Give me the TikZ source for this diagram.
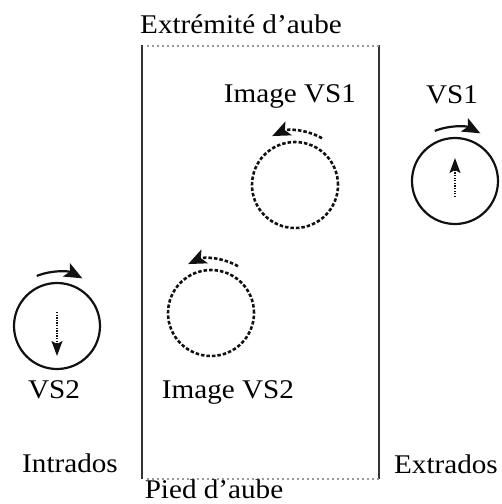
\documentclass[tikz,border=0pt]{standalone}
\usepackage{fontspec}
\setmainfont{Liberation Serif}[FakeStretch=1.08]
\usetikzlibrary{arrows.meta}
\definecolor{c333333}{RGB}{51,51,51}
\definecolor{c9A9A9A}{RGB}{154,154,154}
\definecolor{c111111}{RGB}{17,17,17}

\begin{document}
\begin{tikzpicture}[y=1pt,x=1pt,yscale=-1, inner sep=0pt, outer sep=0pt,
    lbl/.style={anchor=base,font=\fontsize{27}{31}\selectfont},
    vortex/.style={circle,draw=c111111,line width=2.2pt,minimum size=86pt},
    imagevortex/.style={circle,draw=c111111,line width=2.6pt,minimum size=86pt,
      dash pattern=on 3.5pt off 2pt},
    spin/.style={draw=c111111,line width=2.2pt,-{Stealth[length=18pt,width=15pt,inset=4pt]}},
    imagespin/.style={spin,line width=2.6pt,dash pattern=on 3.5pt off 2pt},
    core/.style={draw=c111111,line width=1.6pt,dash pattern=on 1.3pt off 1.3pt,
      -{Stealth[length=15pt,width=11pt,inset=3pt]}}]
  \useasboundingbox (0,0) rectangle (502,504);

  % aube
  \coordinate (tl) at (142,45);
  \coordinate (tr) at (379,45);
  \coordinate (bl) at (142,479);
  \coordinate (br) at (379,479);
  \path[draw=c333333,line width=2pt] (tl) -- (bl);
  \path[draw=c333333,line width=2pt] (tr) -- (br);
  \path[draw=c9A9A9A,line width=1.6pt,dash pattern=on 1.5pt off 3.5pt]
    ([xshift=5pt,yshift=1pt]tl) -- ([yshift=1pt]tr);
  \path[draw=c9A9A9A,line width=1.6pt,dash pattern=on 1.5pt off 3.5pt]
    ([xshift=5pt]bl) -- (br);

  % tourbillons
  \node[vortex] (vsone) at (455,181) {};
  \node[vortex] (vstwo) at (57,326) {};
  \node[imagevortex] (imgone) at (295,185) {};
  \node[imagevortex] (imgtwo) at (211,313) {};

  \draw[spin] ([shift={(-112:54)}]vsone.center) arc[start angle=-112,end angle=-62,radius=54];
  \draw[spin] ([shift={(-112:54)}]vstwo.center) arc[start angle=-112,end angle=-62,radius=54];
  \draw[imagespin] ([shift={(-60:54)}]imgone.center) arc[start angle=-60,end angle=-115,radius=54];
  \draw[imagespin] ([shift={(-60:54)}]imgtwo.center) arc[start angle=-60,end angle=-115,radius=54];

  \coordinate (onetail) at ([yshift=16pt]vsone.center);
  \coordinate (onehead) at ([yshift=-23pt]vsone.center);
  \coordinate (twotail) at ([yshift=-14pt]vstwo.center);
  \coordinate (twohead) at ([yshift=30pt]vstwo.center);
  \draw[core] (onetail) -- (onehead);
  \draw[core] (twotail) -- (twohead);

  % textes
  \node[lbl] (tip) at (241,33) {Extrémité d’aube};
  \node[lbl] (root) at (214,498) {Pied d’aube};
  \node[lbl] (imgonelbl) at (290,102) {Image VS1};
  \node[lbl] (vsonelbl) at (452,103) {VS1};
  \node[lbl] (vstwolbl) at (54,398) {VS2};
  \node[lbl] (imgtwolbl) at (228,398) {Image VS2};
  \node[lbl] (intra) at (70,472) {Intrados};
  \node[lbl] (extra) at (446,473) {Extrados};
\end{tikzpicture}
\end{document}
